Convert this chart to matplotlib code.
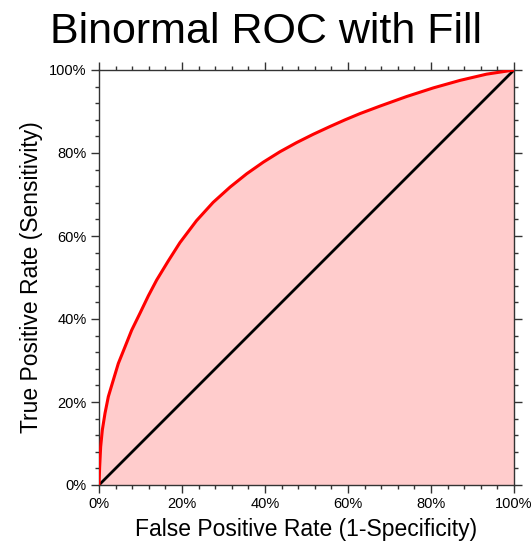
import matplotlib
matplotlib.use("Agg")
import matplotlib.pyplot as plt
from matplotlib.ticker import MultipleLocator, PercentFormatter

plt.rcParams['font.family'] = ['Liberation Sans', 'DejaVu Sans']

fpr = [0.0, 0.0016, 0.004, 0.008, 0.0145, 0.0225, 0.0345, 0.0466, 0.0627, 0.0787,
       0.0988, 0.119, 0.139, 0.167, 0.195, 0.235, 0.275, 0.316, 0.356, 0.396,
       0.436, 0.476, 0.516, 0.557, 0.593, 0.629, 0.677, 0.741, 0.806, 0.87,
       0.934, 1.0]
tpr = [0.0, 0.044, 0.092, 0.1325, 0.173, 0.213, 0.253, 0.293, 0.333, 0.373,
       0.414, 0.456, 0.494, 0.54, 0.584, 0.637, 0.681, 0.718, 0.75, 0.778,
       0.803, 0.825, 0.845, 0.864, 0.88, 0.895, 0.913, 0.936, 0.957, 0.975,
       0.99, 1.0]
diag = [0.0, 1.0]

title = "Binormal ROC with Fill"
xlabel = "False Positive Rate (1-Specificity)"
ylabel = "True Positive Rate (Sensitivity)"

fig = plt.figure(figsize=(5.32, 5.44), dpi=100)
ax = fig.add_axes([99/532, 59/544, 415/532, 415/544])

ax.fill_between(fpr, tpr, 0, color='#FFCCCC', linewidth=0, zorder=1)
ax.plot(diag, diag, color='black', linewidth=2, zorder=3)
ax.plot(fpr, tpr, color='#FF0000', linewidth=2.2, zorder=4,
        solid_joinstyle='round')

ax.set_xlim(0, 1)
ax.set_ylim(0, 1)
for a in (ax.xaxis, ax.yaxis):
    a.set_major_locator(MultipleLocator(0.2))
    a.set_minor_locator(MultipleLocator(0.04))
    a.set_major_formatter(PercentFormatter(1.0, decimals=0))
ax.tick_params(which='both', direction='out', top=True, right=True,
               labeltop=False, labelright=False, width=1, color='#333333')
ax.tick_params(which='major', length=6, labelsize=10.5, pad=3)
ax.tick_params(which='minor', length=3)
for s in ax.spines.values():
    s.set_linewidth(1)
    s.set_color('#333333')

ax.set_xlabel(xlabel, fontsize=16.5, labelpad=5)
ax.set_ylabel(ylabel, fontsize=16.5, labelpad=4)
fig.text(0.5, 1 - 32/544, title, ha='center', va='center', fontsize=31)

fig.savefig("out.png", dpi=100)
